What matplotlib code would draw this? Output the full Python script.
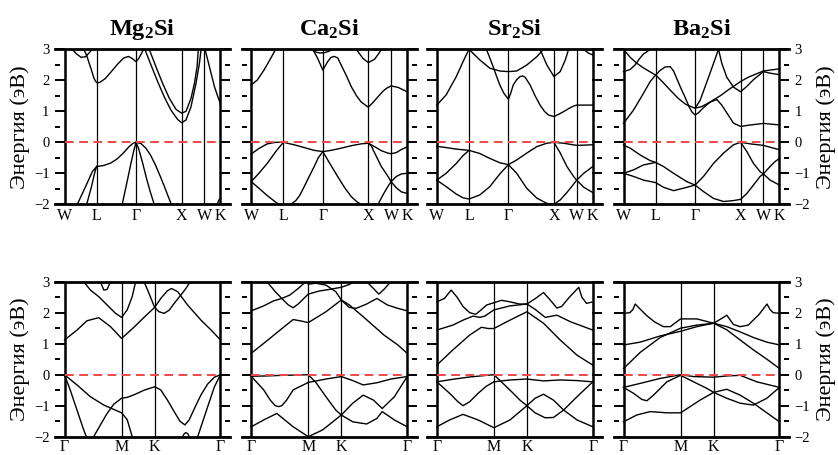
import matplotlib
matplotlib.use('Agg')
import matplotlib.pyplot as plt
import numpy as np

plt.rcParams['font.family'] = ['Liberation Serif', 'DejaVu Serif']
plt.rcParams['mathtext.default'] = 'regular'

titles = ['Mg$_2$Si', 'Ca$_2$Si', 'Sr$_2$Si', 'Ba$_2$Si']
fcc_labels = ['W', 'L', 'Γ', 'X', 'W', 'K']
fcc_pos = [0.0, 0.2063, 0.459, 0.7508, 0.8967, 1.0]
hex_labels = ['Γ', 'M', 'K', 'Γ']
hex_pos = [0.0, 0.3659, 0.5777, 1.0]
ylabel = 'Энергия (эВ)'
yticks = [-2, -1, 0, 1, 2, 3]

# ---- band data: (k along path, normalised 0..1 ; energy eV) ----
mg2si_fcc = [
    [(0.2063,-0.78),(0.25,-0.75),(0.296,-0.67),(0.339,-0.53),(0.382,-0.32),(0.414,-0.14),(0.44,-0.03),(0.459,0.0),(0.49,-0.04),(0.52,-0.18),(0.55,-0.4),(0.58,-0.7),(0.61,-1.05),(0.64,-1.42),(0.665,-1.75),(0.685,-2.0)],
    [(0.459,0.0),(0.475,-0.2),(0.5,-0.65),(0.525,-1.15),(0.55,-1.6),(0.575,-2.0)],
    [(0.459,0.0),(0.445,-0.25),(0.425,-0.7),(0.4,-1.3),(0.385,-1.65),(0.37,-2.0)],
    [(0.142,-2.0),(0.172,-1.45),(0.195,-0.95),(0.2063,-0.78)],
    [(0.082,-2.0),(0.135,-1.43),(0.178,-0.95),(0.2063,-0.78)],
    [(0.979,-2.0),(0.99,-1.86),(1.0,-1.8)],
    [(0.124,3.0),(0.142,2.8),(0.167,2.42),(0.19,2.05),(0.2063,1.92),(0.225,1.93),(0.26,2.05),(0.3,2.28),(0.34,2.52),(0.38,2.72),(0.41,2.77),(0.435,2.7),(0.459,2.6),(0.475,2.7),(0.492,2.85),(0.507,3.0)],
    [(0.049,3.0),(0.077,2.85),(0.107,2.74),(0.135,2.76),(0.157,2.88),(0.178,3.0)],
    [(0.515,3.0),(0.554,2.5),(0.597,1.96),(0.639,1.47),(0.682,1.04),(0.725,0.74),(0.7508,0.63),(0.779,0.72),(0.811,1.15),(0.843,1.9),(0.865,2.55),(0.876,3.0)],
    [(0.543,3.0),(0.586,2.44),(0.629,1.9),(0.672,1.42),(0.715,1.06),(0.7508,0.94),(0.779,1.0),(0.811,1.42),(0.833,1.9),(0.85,2.44),(0.858,3.0)],
    [(0.901,3.0),(0.929,2.44),(0.961,1.8),(0.983,1.47),(1.0,1.24)],
]

ca2si_fcc = [
    [(0,-0.38),(0.049,-0.2),(0.103,-0.05),(0.157,0.0),(0.2063,0.0),(0.275,-0.08),(0.34,-0.17),(0.404,-0.26),(0.459,-0.3),(0.512,-0.26),(0.576,-0.19),(0.641,-0.11),(0.705,-0.05),(0.7508,-0.03),(0.791,-0.14),(0.834,-0.27),(0.877,-0.35),(0.8967,-0.37),(0.931,-0.33),(0.963,-0.23),(1.0,-0.15)],
    [(0,-1.27),(0.049,-1.0),(0.103,-0.68),(0.157,-0.3),(0.2063,0.0)],
    [(0,-1.27),(0.049,-1.48),(0.103,-1.72),(0.157,-1.93),(0.178,-2.0)],
    [(0.459,-0.3),(0.43,-0.5),(0.404,-0.78),(0.37,-1.12),(0.34,-1.43),(0.31,-1.72),(0.286,-1.88),(0.254,-2.0)],
    [(0.459,-0.3),(0.5,-0.65),(0.555,-1.11),(0.6,-1.47),(0.641,-1.75),(0.68,-1.93),(0.705,-2.0)],
    [(0.7508,-0.03),(0.77,-0.12),(0.791,-0.34),(0.834,-0.78),(0.877,-1.1),(0.8967,-1.27),(0.931,-1.47),(0.963,-1.6),(1.0,-1.65)],
    [(0.813,-2.0),(0.85,-1.65),(0.877,-1.42),(0.8967,-1.27),(0.931,-1.1),(0.963,-1.02),(1.0,-1.0)],
    [(0,1.85),(0.039,2.01),(0.082,2.33),(0.125,2.71),(0.157,3.0)],
    [(0.394,3.0),(0.426,2.71),(0.459,2.33),(0.49,2.6),(0.512,2.74),(0.533,2.77),(0.555,2.72),(0.576,2.5),(0.61,2.15),(0.641,1.8),(0.675,1.5),(0.705,1.3),(0.7508,1.13),(0.78,1.28),(0.813,1.47),(0.845,1.65),(0.867,1.74),(0.8967,1.82),(0.942,1.77),(1.0,1.63)],
    [(0.383,3.0),(0.415,2.91),(0.44,2.88),(0.469,2.89),(0.5,2.94),(0.523,3.0)],
    [(0.673,3.0),(0.716,2.71),(0.7508,2.57),(0.791,2.68),(0.82,2.88),(0.834,3.0)],
]

sr2si_fcc = [
    [(0,-0.13),(0.06,-0.17),(0.125,-0.22),(0.2063,-0.26),(0.275,-0.36),(0.34,-0.52),(0.404,-0.66),(0.459,-0.72)],
    [(0,-1.22),(0.06,-1.0),(0.125,-0.68),(0.168,-0.43),(0.2063,-0.26)],
    [(0,-1.22),(0.06,-1.43),(0.125,-1.67),(0.168,-1.79),(0.2063,-1.83),(0.275,-1.7),(0.34,-1.43),(0.404,-1.02),(0.459,-0.72)],
    [(0.459,-0.72),(0.512,-0.57),(0.576,-0.35),(0.641,-0.14),(0.705,-0.03),(0.7508,0.0)],
    [(0.459,-0.72),(0.512,-1.0),(0.576,-1.48),(0.641,-1.8),(0.705,-1.97),(0.7508,-2.0)],
    [(0.7508,0.0),(0.791,-0.34),(0.834,-0.78),(0.877,-1.1),(0.8967,-1.22),(0.942,-1.0),(1.0,-0.78)],
    [(0.7508,-2.0),(0.791,-1.86),(0.834,-1.62),(0.877,-1.35),(0.8967,-1.22),(0.942,-1.45),(1.0,-1.62)],
    [(0.7508,0.0),(0.813,-0.03),(0.8967,-0.1),(1.0,-0.08)],
    [(0,1.2),(0.06,1.53),(0.125,2.12),(0.168,2.6),(0.2063,3.0)],
    [(0.2063,3.0),(0.275,2.66),(0.34,2.39),(0.404,2.3),(0.459,2.28),(0.512,2.3),(0.576,2.49),(0.641,2.76),(0.684,3.0)],
    [(0.318,3.0),(0.34,2.72),(0.361,2.44),(0.383,2.13),(0.404,1.85),(0.43,1.58),(0.459,1.39),(0.475,1.6),(0.49,1.85),(0.512,2.02),(0.533,2.12),(0.55,2.14),(0.566,2.1),(0.598,1.85),(0.63,1.5),(0.662,1.2),(0.69,1.0),(0.716,0.88),(0.7508,0.83),(0.78,0.9),(0.813,0.99),(0.85,1.1),(0.877,1.17),(0.8967,1.2),(0.95,1.2),(1.0,1.2)],
    [(0.662,3.0),(0.705,2.5),(0.7508,2.12),(0.791,2.28),(0.824,2.66),(0.845,3.0)],
    [(0.942,3.0),(0.974,2.87),(1.0,2.82)],
]

ba2si_fcc = [
    [(0,-0.09),(0.043,-0.19),(0.107,-0.41),(0.171,-0.59),(0.2063,-0.65),(0.256,-0.78),(0.321,-1.0),(0.406,-1.27),(0.459,-1.38)],
    [(0,-1.0),(0.064,-0.89),(0.128,-0.73),(0.2063,-0.65)],
    [(0,-1.0),(0.064,-1.1),(0.128,-1.22),(0.2063,-1.3),(0.256,-1.45),(0.321,-1.56),(0.385,-1.48),(0.459,-1.38)],
    [(0.459,-1.38),(0.513,-1.59),(0.577,-1.81),(0.641,-1.91),(0.705,-1.88),(0.7508,-1.84),(0.791,-1.65),(0.833,-1.38),(0.876,-1.1),(0.8967,-1.02),(0.94,-0.78),(0.972,-0.62),(1.0,-0.52)],
    [(0.459,-1.38),(0.513,-1.1),(0.577,-0.68),(0.641,-0.35),(0.705,-0.08),(0.7508,0.0)],
    [(0.7508,0.0),(0.791,-0.3),(0.833,-0.68),(0.876,-0.95),(0.8967,-1.02),(0.94,-1.22),(1.0,-1.38)],
    [(0.7508,0.0),(0.812,-0.05),(0.8967,-0.1),(1.0,-0.24)],
    [(0,0.61),(0.064,1.04),(0.128,1.58),(0.171,1.96),(0.2063,2.17),(0.235,2.32),(0.267,2.43),(0.299,2.44),(0.321,2.3),(0.342,2.05),(0.37,1.72),(0.395,1.45),(0.42,1.15),(0.44,0.97),(0.459,0.88),(0.48,0.95),(0.513,1.12),(0.556,1.3),(0.598,1.38),(0.63,1.2),(0.662,0.95),(0.705,0.62),(0.7508,0.51),(0.8,0.55),(0.8967,0.61),(1.0,0.56)],
    [(0.2063,2.17),(0.25,1.95),(0.3,1.68),(0.35,1.42),(0.4,1.22),(0.459,1.1),(0.5,1.15),(0.556,1.3),(0.62,1.5),(0.68,1.72),(0.7508,1.96),(0.8,2.1),(0.8967,2.3),(1.0,2.37)],
    [(0.459,1.1),(0.491,1.35),(0.52,1.75),(0.556,2.25),(0.588,2.7),(0.609,3.0),(0.63,2.55),(0.662,2.1),(0.705,1.78),(0.7508,1.63),(0.79,1.8),(0.833,2.02),(0.8967,2.28),(0.94,2.23),(1.0,2.18)],
    [(0,3.0),(0.043,2.74),(0.085,2.55),(0.128,2.4),(0.171,2.27),(0.2063,2.17)],
    [(0,2.28),(0.043,2.35),(0.075,2.5),(0.1,2.68),(0.128,2.85),(0.15,2.92),(0.171,3.0)],
]

mg2si_hex = [
    [(0,0.0),(0.08,-0.33),(0.166,-0.71),(0.252,-0.98),(0.3659,-1.23),(0.402,-1.45),(0.434,-2.0)],
    [(0,0.0),(0.037,-0.5),(0.08,-1.14),(0.123,-1.78),(0.14,-2.0)],
    [(0.187,-2.0),(0.23,-1.62),(0.273,-1.25),(0.316,-0.95),(0.3659,-0.76),(0.402,-0.73),(0.445,-0.65),(0.51,-0.5),(0.5777,-0.39),(0.617,-0.49),(0.66,-0.82),(0.703,-1.19),(0.74,-1.5),(0.772,-1.62),(0.8,-1.45),(0.832,-1.1),(0.875,-0.65),(0.918,-0.3),(0.961,-0.08),(1.0,0.0)],
    [(1.0,0.0),(0.961,-0.39),(0.918,-1.03),(0.875,-1.68),(0.854,-2.0)],
    [(0.757,-2.0),(0.768,-1.9),(0.778,-1.87),(0.79,-1.9),(0.8,-2.0)],
    [(0,1.12),(0.08,1.44),(0.144,1.74),(0.219,1.84),(0.295,1.55),(0.3659,1.17),(0.445,1.53),(0.51,1.85),(0.5777,2.17)],
    [(0.123,3.0),(0.166,2.73),(0.219,2.52),(0.273,2.25),(0.327,1.98),(0.3659,1.85),(0.402,2.09),(0.434,2.52),(0.456,3.0)],
    [(0.23,3.0),(0.252,2.73),(0.273,2.75),(0.295,3.0)],
    [(0.51,3.0),(0.542,2.62),(0.5777,2.17),(0.606,2.03),(0.639,1.98),(0.671,2.08),(0.703,2.3),(0.746,2.57),(0.778,2.78),(0.806,3.0)],
    [(0.5777,2.17),(0.617,2.46),(0.66,2.71),(0.686,2.78),(0.725,2.68),(0.789,2.25),(0.875,1.76),(0.94,1.44),(1.0,1.12)],
]

ca2si_hex = [
    [(0,-0.05),(0.1,-0.04),(0.2,-0.02),(0.3,-0.01),(0.3659,0.0),(0.416,-0.26),(0.479,-0.71),(0.542,-1.14),(0.5777,-1.3)],
    [(0,-0.05),(0.08,-0.49),(0.122,-0.82),(0.154,-1.0),(0.175,-1.03),(0.196,-1.0),(0.227,-0.82),(0.269,-0.49),(0.3659,-0.25)],
    [(0.3659,-0.25),(0.479,-0.14),(0.5777,-0.06),(0.651,-0.19),(0.718,-0.33),(0.806,-0.26),(0.895,-0.14),(1.0,-0.06)],
    [(0.5777,-1.3),(0.651,-0.92),(0.718,-0.66),(0.784,-0.82),(0.84,-1.09),(0.918,-0.71),(1.0,-0.06)],
    [(0.5777,-1.3),(0.651,-1.52),(0.74,-1.59),(0.806,-1.41),(0.84,-1.19),(0.918,-1.46),(1.0,-1.68)],
    [(0,-1.68),(0.08,-1.46),(0.164,-1.25),(0.269,-1.68),(0.3659,-2.0),(0.458,-1.78),(0.5777,-1.3)],
    [(0,0.69),(0.08,1.01),(0.185,1.44),(0.269,1.78),(0.322,1.73),(0.3659,1.68),(0.479,2.03),(0.5777,2.41)],
    [(0.5777,2.41),(0.629,2.25),(0.718,1.87),(0.851,1.28),(0.94,0.96),(1.0,0.69)],
    [(0,2.06),(0.08,2.22),(0.143,2.38),(0.196,2.46),(0.248,2.57),(0.301,2.78),(0.343,2.97),(0.353,3.0)],
    [(0.101,3.0),(0.154,2.68),(0.196,2.46),(0.238,2.25),(0.269,2.16),(0.301,2.28),(0.3659,2.6),(0.437,2.7),(0.5,2.75),(0.5777,2.82),(0.629,2.91),(0.662,3.0)],
    [(0.3659,2.92),(0.416,2.95),(0.479,2.89),(0.542,2.68),(0.5777,2.41),(0.629,2.17),(0.673,2.14),(0.74,2.28),(0.806,2.46),(0.873,2.25),(0.94,2.14),(1.0,2.06)],
    [(0.74,3.0),(0.784,2.78),(0.818,2.6),(0.851,2.75),(0.895,3.0)],
]

sr2si_hex = [
    [(0,-0.23),(0.1,-0.15),(0.2,-0.08),(0.3,-0.03),(0.3659,0.0),(0.447,-0.39),(0.49,-0.6),(0.533,-0.82),(0.5777,-1.0),(0.63,-1.23),(0.695,-1.39),(0.748,-1.38),(0.813,-1.14),(0.899,-0.71),(1.0,-0.23)],
    [(0,-0.23),(0.082,-0.6),(0.135,-0.87),(0.168,-1.0),(0.211,-0.87),(0.265,-0.6),(0.318,-0.37),(0.3659,-0.23)],
    [(0.3659,-0.23),(0.469,-0.17),(0.5777,-0.14),(0.684,-0.2),(0.791,-0.17),(0.899,-0.19),(1.0,-0.23)],
    [(0.5777,-1.0),(0.63,-0.76),(0.684,-0.63),(0.748,-0.82),(0.813,-1.14),(0.899,-1.46),(1.0,-1.68)],
    [(0,-1.68),(0.082,-1.46),(0.168,-1.28),(0.265,-1.46),(0.3659,-1.71),(0.469,-1.46),(0.5777,-1.0)],
    [(0,0.31),(0.103,0.8),(0.211,1.28),(0.286,1.53),(0.329,1.49),(0.3659,1.49),(0.469,1.76),(0.5777,2.03),(0.684,1.66),(0.791,1.12),(0.899,0.63),(1.0,0.31)],
    [(0,1.44),(0.103,1.6),(0.168,1.76),(0.232,1.89),(0.275,1.85),(0.308,1.89),(0.3659,2.09),(0.469,2.22),(0.5777,2.28),(0.63,2.11),(0.695,1.85),(0.77,1.92),(0.856,1.71),(1.0,1.44)],
    [(0,2.35),(0.049,2.46),(0.092,2.73),(0.13,2.5),(0.168,2.2),(0.211,2.0),(0.25,1.95),(0.286,2.1),(0.32,2.25),(0.3659,2.32),(0.415,2.4),(0.469,2.35),(0.53,2.28),(0.5777,2.28),(0.63,2.45),(0.684,2.65),(0.72,2.45),(0.77,2.15),(0.8,2.2),(0.85,2.5),(0.91,2.82),(0.93,2.5),(0.96,2.3),(1.0,2.35)],
]

ba2si_hex = [
    [(0,-0.41),(0.107,-0.28),(0.235,-0.12),(0.3659,0.0),(0.449,-0.06),(0.5777,-0.08),(0.662,-0.04),(0.748,-0.02),(0.855,-0.23),(1.0,-0.41)],
    [(0,-0.41),(0.064,-0.6),(0.118,-0.8),(0.15,-0.84),(0.192,-0.66),(0.278,-0.23),(0.3659,-0.02),(0.449,-0.23),(0.534,-0.44),(0.5777,-0.57),(0.662,-0.76),(0.748,-0.92),(0.833,-0.98),(0.919,-0.76),(1.0,-0.41)],
    [(0,-1.52),(0.085,-1.3),(0.171,-1.19),(0.278,-1.23),(0.3659,-1.23),(0.427,-1.03),(0.491,-0.82),(0.5777,-0.57),(0.662,-0.47),(0.748,-0.66),(0.833,-0.92),(0.919,-1.23),(1.0,-1.52)],
    [(0,0.2),(0.107,0.72),(0.235,1.2),(0.3659,1.5),(0.47,1.6),(0.5777,1.66),(0.662,1.45),(0.748,1.12),(0.833,0.8),(0.919,0.5),(1.0,0.2)],
    [(0,0.96),(0.107,1.05),(0.235,1.25),(0.3659,1.4),(0.47,1.55),(0.5777,1.66),(0.662,1.55),(0.748,1.38),(0.833,1.2),(0.919,1.05),(1.0,0.96)],
    [(0,1.98),(0.04,2.0),(0.06,2.1),(0.075,2.28),(0.1,2.15),(0.15,1.9),(0.2,1.7),(0.256,1.55),(0.3,1.55),(0.3659,1.8),(0.47,1.8),(0.5777,1.66),(0.641,1.85),(0.662,1.92),(0.705,1.62),(0.748,1.55),(0.8,1.6),(0.87,1.95),(0.92,2.28),(0.94,2.1),(0.96,2.0),(1.0,1.98)],
]

top_bands = [mg2si_fcc, ca2si_fcc, sr2si_fcc, ba2si_fcc]
bottom_bands = [mg2si_hex, ca2si_hex, sr2si_hex, ba2si_hex]

# ---- figure ----
W, H = 838, 455
fig = plt.figure(figsize=(W / 100, H / 100), dpi=100)
col_left = [55, 241.7, 427.3, 614]
frame_w = 175
row_top = [49.3, 281.7]
frame_h = 155
pad = 0.061


def draw(ax, bands, pos, labels, col, xpad):
    for b in bands:
        k, e = zip(*b)
        ax.plot(k, e, color='black', lw=1.0, solid_joinstyle='round')
    for i, p in enumerate(pos):
        end = i in (0, len(pos) - 1)
        ax.axvline(p, color='black', lw=1.8 if end else 0.9, zorder=3)
    ax.plot([0, 1], [0, 0], color='#f04848', lw=1.4, ls=(0, (4.5, 2.8)), zorder=4)
    ax.set_xlim(-pad, 1 + pad)
    ax.set_ylim(-2, 3)
    ax.set_xticks(pos)
    ax.set_xticklabels(labels)
    ax.tick_params(axis='x', length=0, pad=xpad, labelsize=11.5)
    ax.set_yticks(yticks)
    ax.set_yticks(np.arange(-1.5, 3, 1.0), minor=True)
    ax.tick_params(axis='y', which='major', direction='in', length=7.0, width=1.4,
                   left=True, right=True, labelleft=(col == 0), labelright=(col == 3),
                   labelsize=10.5, pad=4)
    ax.tick_params(axis='y', which='minor', direction='in', length=3.3, width=1.4,
                   left=True, right=True)
    for s in ('left', 'right'):
        ax.spines[s].set_visible(False)
    for s in ('top', 'bottom'):
        ax.spines[s].set_linewidth(2.0)


for row in range(2):
    for col in range(4):
        x0 = col_left[col] / W
        y0 = 1 - (row_top[row] + frame_h) / H
        ax = fig.add_axes([x0, y0, frame_w / W, frame_h / H])
        if row == 0:
            draw(ax, top_bands[col], fcc_pos, fcc_labels, col, 2.5)
            ax.set_title(titles[col], fontsize=17.5, fontweight='bold', pad=10)
        else:
            draw(ax, bottom_bands[col], hex_pos, hex_labels, col, 2.0)

for row in range(2):
    yc = 1 - (row_top[row] + frame_h / 2) / H
    fig.text(20 / W, yc, ylabel, rotation=90, ha='center', va='center', fontsize=16)
    fig.text(826 / W, yc, ylabel, rotation=90, ha='center', va='center', fontsize=16)

fig.savefig('out.png', dpi=100)
